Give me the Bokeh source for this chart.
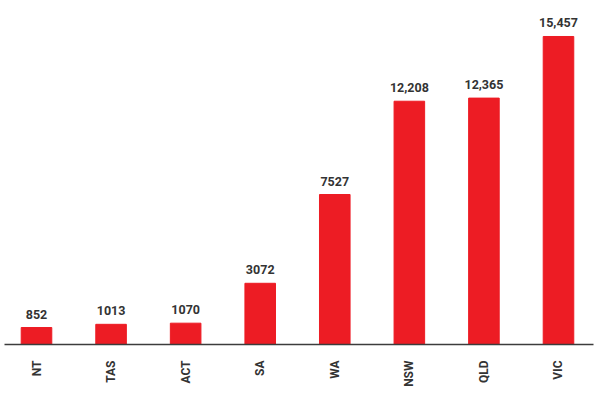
import math
from bokeh.plotting import figure
from bokeh.models import ColumnDataSource, FixedTicker, Range1d
from bokeh.core.properties import value
from bokeh.embed import file_html
from bokeh.resources import INLINE

states = ["NT", "TAS", "ACT", "SA", "WA", "NSW", "QLD", "VIC"]
counts = [852, 1013, 1070, 3072, 7527, 12208, 12365, 15457]
count_labels = ["852", "1013", "1070", "3072", "7527", "12,208", "12,365", "15,457"]

xs = list(range(len(states)))
src = ColumnDataSource(dict(x=xs, top=counts, lab=count_labels))

p = figure(width=604, height=393, output_backend="svg", toolbar_location=None,
           x_range=Range1d(-0.4828, 7.617), y_range=Range1d(0, 17263),
           min_border_left=0, min_border_right=0, min_border_top=0, min_border_bottom=49)
p.outline_line_color = None
p.grid.visible = False
p.yaxis.visible = False

p.vbar(x="x", top="top", width=0.41, source=src, color="#ED1C24")
p.text(x="x", y="top", text="lab", source=src, text_align="center", text_baseline="bottom",
       y_offset=-9, text_font=value("Roboto"), text_font_style="bold",
       text_font_size="12.5px", text_color="#333333")

ax = p.xaxis[0]
ax.ticker = FixedTicker(ticks=xs)
ax.bounds = (-0.429, 7.47)
ax.major_label_overrides = {i: s for i, s in enumerate(states)}
ax.major_label_orientation = math.pi / 2
ax.major_tick_line_color = None
ax.minor_tick_line_color = None
ax.major_tick_out = 0
ax.major_label_standoff = 16
ax.axis_line_color = "#3c3c3c"
ax.axis_line_width = 1.5
ax.major_label_text_font = "Roboto"
ax.major_label_text_font_style = "bold"
ax.major_label_text_font_size = "12px"
ax.major_label_text_color = "#333333"

open("out.html", "w").write(file_html(p, INLINE))
